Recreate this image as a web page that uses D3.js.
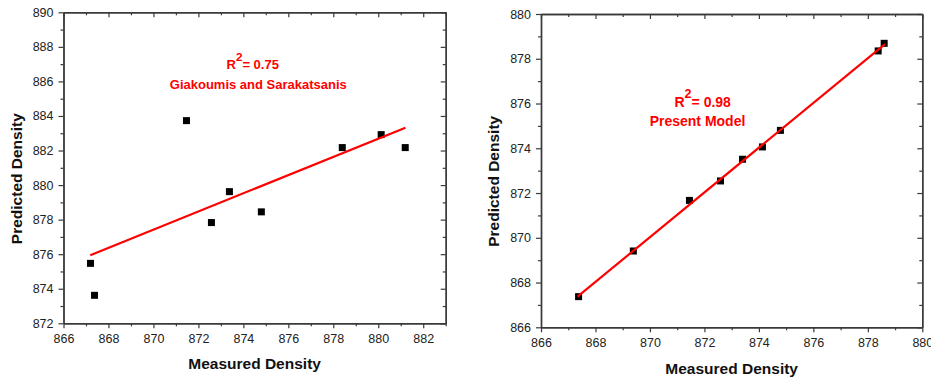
<!DOCTYPE html>
<html>
<head>
<meta charset="utf-8">
<script src="https://cdn.jsdelivr.net/npm/d3@7"></script>
<style>
  html, body { margin: 0; padding: 0; background: #fff; }
  svg { display: block; font-family: "Liberation Sans", Arial, sans-serif; }
</style>
</head>
<body>
<svg id="chart" width="931" height="378"></svg>
<script>
// ---- Data ----
const leftMeasured  = [867.2, 867.38, 871.47, 872.58, 873.38, 874.8, 878.4, 880.13, 881.2];
const leftPredicted = [875.47, 873.62, 883.73, 877.83, 879.62, 878.45, 882.17, 882.92, 882.17];
const leftFitX = [867.19, 881.21];
const leftFitY = [875.94, 883.32];

const rightMeasured  = [867.38, 869.39, 871.45, 872.59, 873.40, 874.13, 874.79, 878.38, 878.6];
const rightPredicted = [867.37, 869.41, 871.67, 872.54, 873.51, 874.06, 874.8, 878.35, 878.69];
const rightFitX = [867.34, 878.63];
const rightFitY = [867.37, 878.65];

const leftXTicks = [866, 868, 870, 872, 874, 876, 878, 880, 882];
const leftXMinor = [867, 869, 871, 873, 875, 877, 879, 881, 883];
const leftYTicks = [872, 874, 876, 878, 880, 882, 884, 886, 888, 890];
const leftYMinor = [873, 875, 877, 879, 881, 883, 885, 887, 889];

const rightXTicks = [866, 868, 870, 872, 874, 876, 878, 880];
const rightXMinor = [867, 869, 871, 873, 875, 877, 879];
const rightYTicks = [866, 868, 870, 872, 874, 876, 878, 880];
const rightYMinor = [867, 869, 871, 873, 875, 877, 879];

const xTitle = "Measured Density";
const yTitle = "Predicted Density";
const leftR2 = "0.75", leftLabel = "Giakoumis and Sarakatsanis";
const rightR2 = "0.98", rightLabel = "Present Model";

const svg = d3.select("#chart");
const axisColor = "#3a3a3a";

function panel(cfg) {
  const x = d3.scaleLinear().domain(cfg.xDomain).range([cfg.left, cfg.right]);
  const y = d3.scaleLinear().domain(cfg.yDomain).range([cfg.bottom, cfg.top]);
  const g = svg.append("g");

  function styleAxis(sel, labels) {
    sel.select(".domain").attr("stroke", axisColor).attr("stroke-width", 1.4);
    sel.selectAll(".tick line").attr("stroke", axisColor).attr("stroke-width", 1.2);
    sel.selectAll(".tick text").attr("fill", "#222").style("font-size", "12.5px")
       .style("font-family", "'Liberation Sans', Arial, sans-serif");
    if (!labels) sel.selectAll(".tick text").remove();
  }

  // bottom
  g.append("g").attr("transform", `translate(0,${cfg.bottom})`)
    .call(d3.axisBottom(x).tickValues(cfg.xMinor).tickSize(3).tickSizeOuter(0))
    .call(s => styleAxis(s, false));
  g.append("g").attr("transform", `translate(0,${cfg.bottom})`)
    .call(d3.axisBottom(x).tickValues(cfg.xTicks).tickSize(5).tickSizeOuter(0).tickPadding(6).tickFormat(d3.format("d")))
    .call(s => styleAxis(s, true));
  // top (inward ticks)
  g.append("g").attr("transform", `translate(0,${cfg.top})`)
    .call(d3.axisBottom(x).tickValues(cfg.xMinor).tickSize(3).tickSizeOuter(0))
    .call(s => styleAxis(s, false));
  g.append("g").attr("transform", `translate(0,${cfg.top})`)
    .call(d3.axisBottom(x).tickValues(cfg.xTicks).tickSize(5).tickSizeOuter(0))
    .call(s => styleAxis(s, false));
  // left
  g.append("g").attr("transform", `translate(${cfg.left},0)`)
    .call(d3.axisLeft(y).tickValues(cfg.yMinor).tickSize(3).tickSizeOuter(0))
    .call(s => styleAxis(s, false));
  g.append("g").attr("transform", `translate(${cfg.left},0)`)
    .call(d3.axisLeft(y).tickValues(cfg.yTicks).tickSize(5).tickSizeOuter(0).tickPadding(5).tickFormat(d3.format("d")))
    .call(s => styleAxis(s, true));
  // right (inward ticks)
  g.append("g").attr("transform", `translate(${cfg.right},0)`)
    .call(d3.axisLeft(y).tickValues(cfg.yMinor).tickSize(3).tickSizeOuter(0))
    .call(s => styleAxis(s, false));
  g.append("g").attr("transform", `translate(${cfg.right},0)`)
    .call(d3.axisLeft(y).tickValues(cfg.yTicks).tickSize(5).tickSizeOuter(0))
    .call(s => styleAxis(s, false));

  // points
  const pts = cfg.mx.map((v, i) => [v, cfg.py[i]]);
  const s = 7;
  g.append("g").selectAll("rect").data(pts).join("rect")
    .attr("x", d => x(d[0]) - s / 2).attr("y", d => y(d[1]) - s / 2)
    .attr("width", s).attr("height", s).attr("fill", "#000");

  // fit line
  const fit = cfg.fx.map((v, i) => [v, cfg.fy[i]]);
  g.append("path").datum(fit)
    .attr("d", d3.line().x(d => x(d[0])).y(d => y(d[1])))
    .attr("fill", "none").attr("stroke", "#ff0000").attr("stroke-width", 2.2);

  // titles
  g.append("text").attr("x", (cfg.left + cfg.right) / 2).attr("y", cfg.xTitleY)
    .attr("text-anchor", "middle").attr("font-weight", "bold").style("font-size", "15.5px")
    .attr("fill", "#111").text(xTitle);
  g.append("text").attr("transform", `translate(${cfg.yTitleX},${cfg.yTitleCY}) rotate(-90)`)
    .attr("text-anchor", "middle").attr("font-weight", "bold").style("font-size", "15.5px")
    .attr("fill", "#111").text(yTitle);

  // annotation
  const r2 = g.append("text").attr("x", cfg.annX1).attr("y", cfg.annY1)
    .attr("text-anchor", "middle").attr("font-weight", "bold").attr("fill", "#ff0000")
    .style("font-size", cfg.annSize + "px");
  r2.append("tspan").text("R");
  r2.append("tspan").attr("dy", -cfg.annSize * 0.6).style("font-size", (cfg.annSize * 0.9) + "px").text("2");
  r2.append("tspan").attr("dy", cfg.annSize * 0.6).text("= " + cfg.r2);
  g.append("text").attr("x", cfg.annX2).attr("y", cfg.annY2)
    .attr("text-anchor", "middle").attr("font-weight", "bold").attr("fill", "#ff0000")
    .style("font-size", cfg.annSize + "px").text(cfg.label);
}

panel({
  xDomain: [866, 883], yDomain: [872, 890],
  left: 63.5, right: 445.7, top: 12.3, bottom: 323.3,
  xTicks: leftXTicks, xMinor: leftXMinor, yTicks: leftYTicks, yMinor: leftYMinor,
  mx: leftMeasured, py: leftPredicted, fx: leftFitX, fy: leftFitY,
  xTitleY: 369.3, yTitleX: 21.7, yTitleCY: 178.7,
  annSize: 13, r2: leftR2, label: leftLabel,
  annX1: 252.7, annY1: 69, annX2: 258.3, annY2: 89.3
});

panel({
  xDomain: [866, 880], yDomain: [866, 880],
  left: 541, right: 922.3, top: 14, bottom: 327.3,
  xTicks: rightXTicks, xMinor: rightXMinor, yTicks: rightYTicks, yMinor: rightYMinor,
  mx: rightMeasured, py: rightPredicted, fx: rightFitX, fy: rightFitY,
  xTitleY: 373.5, yTitleX: 499.3, yTitleCY: 181.3,
  annSize: 14, r2: rightR2, label: rightLabel,
  annX1: 702.7, annY1: 106.7, annX2: 697.5, annY2: 126
});
</script>
</body>
</html>
